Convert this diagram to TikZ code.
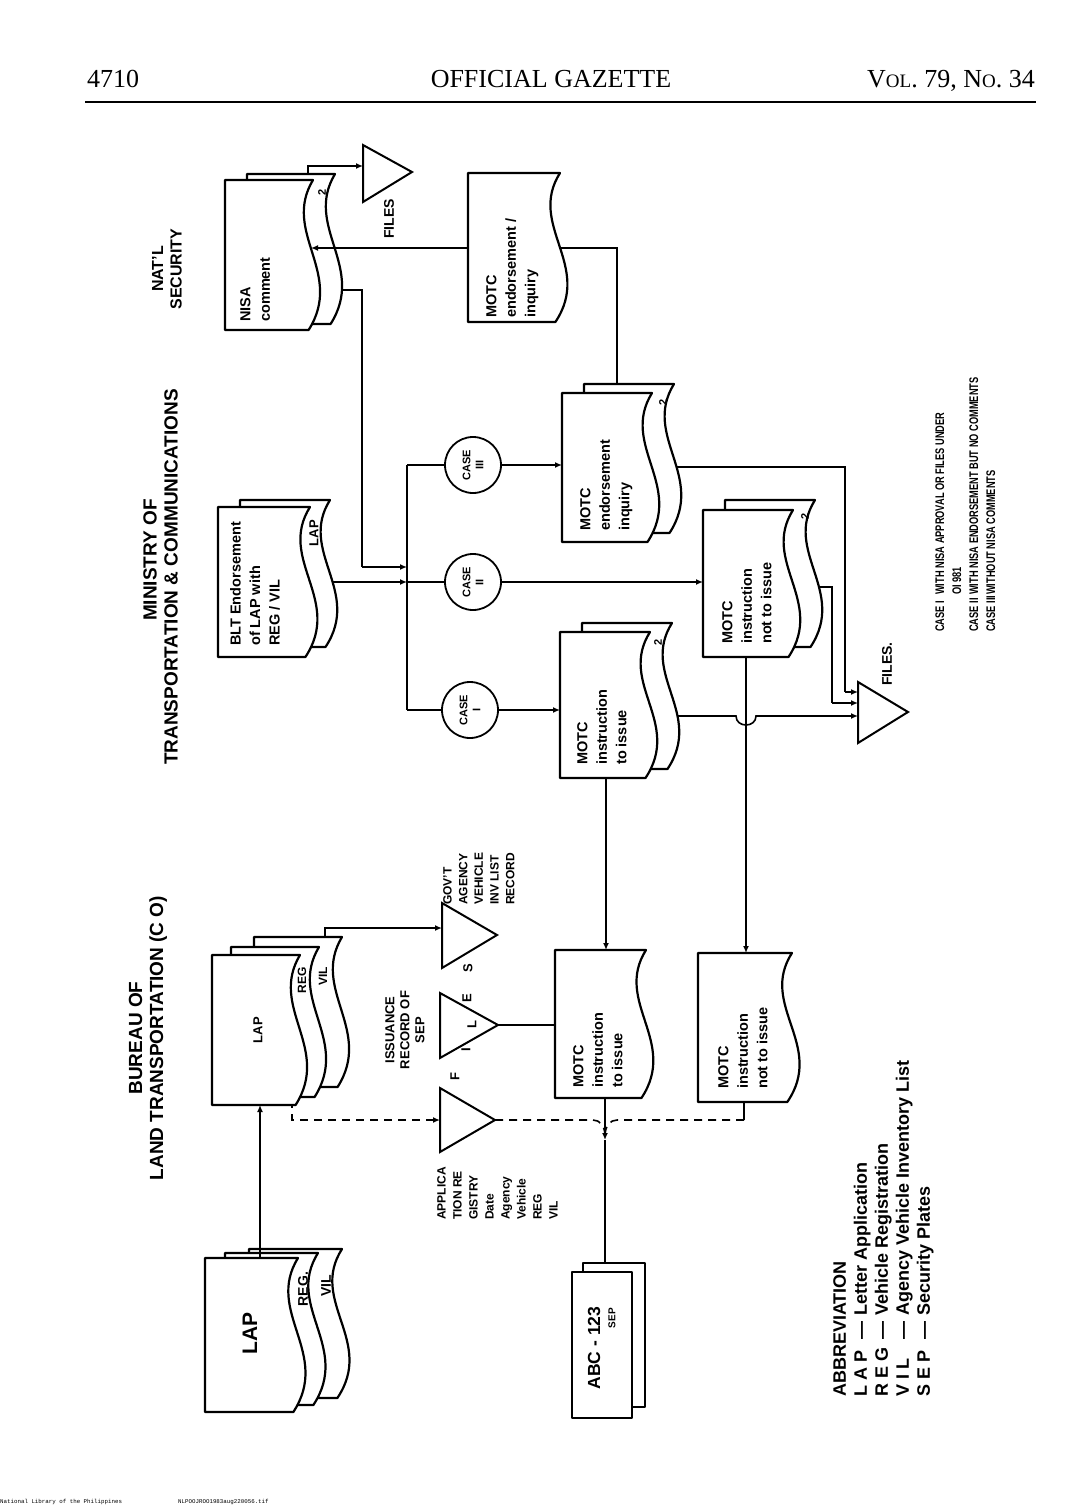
\documentclass[tikz,border=0pt]{standalone}
\usepackage{fontspec}
\usepackage{graphicx}
\setmainfont{Liberation Sans}
\newfontfamily\serfont{Liberation Serif}
\newfontfamily\monofont{Liberation Mono}
\usetikzlibrary{arrows.meta}
\newcommand{\mydoc}[4]{%
  \draw[docline] (#1,#2) -- ({#1+#3},#2)
    .. controls ({#1+0.64*#3},{#2+0.35*#4}) and ({#1+1.36*#3},{#2+0.62*#4})
    .. ({#1+0.95*#3},{#2+#4}) -- (#1,{#2+#4}) -- cycle;}
\begin{document}
\begin{tikzpicture}[x=1pt,y=-1pt,
  docline/.style={line width=2.2pt,fill=white,line join=round},
  conn/.style={line width=1.6pt},
  arr/.style={line width=1.6pt,-{Latex[length=7pt,width=6pt]}},
  dsh/.style={line width=1.6pt,dash pattern=on 8pt off 6pt},
  tri/.style={line width=2pt,line join=miter,fill=white},
  dtext/.style={rotate=90,inner sep=0pt,anchor=north west,align=left,font=\bfseries\fontsize{14.5}{19.5}\selectfont},
  ttext/.style={rotate=90,inner sep=0pt,align=center,font=\bfseries\fontsize{19}{21}\selectfont},
  lbl/.style={rotate=90,inner sep=0pt,font=\bfseries\fontsize{13}{15}\selectfont},
  casec/.style={circle,draw,line width=1.8pt,minimum size=56pt,inner sep=0pt,rotate=90,align=center,font=\bfseries\fontsize{11}{13}\selectfont,fill=white},
  hdr/.style={inner sep=0pt,font=\serfont\fontsize{26}{26}\selectfont}]
\useasboundingbox (0,0) rectangle (1080,1508);
\fill[white] (0,0) rectangle (1080,1508);

% ---------- header and footer ----------
\node[hdr,anchor=base west] (pgno) at (87,87) {4710};
\node[hdr,anchor=base] (gaz) at (551,87) {OFFICIAL GAZETTE};
\node[hdr,anchor=base east] (vol) at (1035,87) {V{\fontsize{19}{19}\selectfont OL}. 79, N{\fontsize{19}{19}\selectfont O}. 34};
\coordinate (ruleA) at (85,102);
\coordinate (ruleB) at (1036,102);
\draw[line width=1.3pt] (ruleA) -- (ruleB);
\node[anchor=base west,inner sep=0pt,font=\monofont\fontsize{5.8}{6}\selectfont] (foot1) at (0,1503) {National Library of the Philippines};
\node[anchor=base west,inner sep=0pt,font=\monofont\fontsize{5.8}{6}\selectfont] (foot2) at (178,1503) {NLPOOJROO1983aug220056.tif};

% ---------- titles ----------
\node[ttext,font=\bfseries\fontsize{16}{18.5}\selectfont] (tnat) at (167,269) {NAT'L\\SECURITY};
\node[ttext] (tmin1) at (150,560) {MINISTRY OF};
\node[ttext] (tmin2) at (171,577) {TRANSPORTATION \& COMMUNICATIONS};
\node[ttext] (tbur) at (148,1038) {BUREAU OF\\LAND TRANSPORTATION (C O)};

% ---------- coordinates ----------
\coordinate (n2top) at (308,185);
\coordinate (f1in) at (363,166);
\coordinate (nisaOut) at (320,290);
\coordinate (nisaTurn) at (362,567);
\coordinate (busn) at (407,567);
\coordinate (mtOut) at (550,248);
\coordinate (meiTop) at (617,392);
\coordinate (bltOut) at (320,582);
\coordinate (bus3) at (407,465);
\coordinate (bus2) at (407,582);
\coordinate (bus1) at (407,710);
\coordinate (meiOut) at (670,467);
\coordinate (f2t1) at (845,692);
\coordinate (f2a) at (858,692);
\coordinate (mniOut) at (810,587);
\coordinate (f2t2) at (832,703);
\coordinate (f2b) at (858,703);
\coordinate (mitOut) at (670,716);
\coordinate (hopA) at (736,716);
\coordinate (hopB) at (756,716);
\coordinate (f2c) at (858,716);
\coordinate (mitDown) at (606,770);
\coordinate (mit2Top) at (606,950);
\coordinate (mniDown) at (746,650);
\coordinate (mni2Top) at (746,953);
\coordinate (burTop) at (325,945);
\coordinate (govIn) at (442,928);
\coordinate (burBot) at (292,1100);
\coordinate (appIn) at (440,1120);

% ---------- connectors starting under documents ----------
\draw[arr] (n2top) |- (f1in);
\draw[conn] (nisaOut) -| (nisaTurn);
\draw[arr] (nisaTurn) -- (busn);
\draw[conn] (mtOut) -| (meiTop);
\draw[arr] (bltOut) -- (bus2);
\draw[conn] (meiOut) -| (f2t1);
\draw[arr] (f2t1) -- (f2a);
\draw[conn] (mniOut) -| (f2t2);
\draw[arr] (f2t2) -- (f2b);
\draw[arr] (mitOut) -- (hopA) .. controls (736,728) and (756,728) .. (hopB) -- (f2c);
\draw[arr] (mitDown) -- (mit2Top);
\draw[arr] (mniDown) -- (mni2Top);
\draw[arr] (burTop) |- (govIn);
\draw[dsh,-{Latex[length=7pt,width=6pt]}] (burBot) |- (appIn);

% ---------- documents ----------
% NISA comment
\mydoc{247}{174}{88}{150}
\mydoc{225}{180}{88}{150}
% MOTC endorsement / inquiry (top)
\mydoc{468}{173}{92}{149}
% BLT endorsement
\mydoc{240}{500}{90}{147}
\mydoc{218}{507}{92}{150}
% MOTC endorsement inquiry
\mydoc{584}{384}{90}{149}
\mydoc{562}{393}{90}{149}
% MOTC instruction not to issue (upper)
\mydoc{725}{500}{90}{147}
\mydoc{703}{510}{90}{147}
% MOTC instruction to issue (upper)
\mydoc{582}{623}{90}{146}
\mydoc{560}{632}{90}{146}
% lower MOTC docs
\mydoc{555}{950}{91}{148}
\mydoc{698}{953}{94}{149}
% Bureau LAP stack
\mydoc{254}{937}{88}{150}
\mydoc{231}{947}{88}{150}
\mydoc{212}{955}{88}{150}
% applicant LAP stack
\mydoc{249}{1249}{93}{149}
\mydoc{225}{1253}{93}{152}
\mydoc{205}{1258}{93}{154}
% SEP plates
\draw[docline] (583,1263) rectangle (645,1407);
\draw[docline] (572,1272) rectangle (632,1418);

% ---------- document texts ----------
\node[dtext] (tNisa) at (240,322) {NISA\\comment};
\node[dtext] (tMt) at (486,318) {MOTC\\endorsement /\\inquiry};
\node[dtext] (tBlt) at (230,646) {BLT Endorsement\\of LAP with\\REG / VIL};
\node[dtext] (tMei) at (580,531) {MOTC\\endorsement\\inquiry};
\node[dtext] (tMni) at (722,644) {MOTC\\instruction\\not to issue};
\node[dtext] (tMit) at (577,765) {MOTC\\instruction\\to issue};
\node[dtext] (tMit2) at (573,1088) {MOTC\\instruction\\to issue};
\node[dtext] (tMni2) at (718,1089) {MOTC\\instruction\\not to issue};
\node[lbl,font=\bfseries\fontsize{11}{11}\selectfont] (two1) at (322,192) {2};
\node[lbl,font=\bfseries\fontsize{11}{11}\selectfont] (two2) at (663,402) {2};
\node[lbl,font=\bfseries\fontsize{11}{11}\selectfont] (two3) at (805,516) {2};
\node[lbl,font=\bfseries\fontsize{11}{11}\selectfont] (two4) at (658,642) {2};
\node[lbl] (bltLap) at (314,533) {LAP};
\node[lbl,font=\bfseries\fontsize{13}{13}\selectfont] (burLap) at (258,1030) {LAP};
\node[lbl,font=\bfseries\fontsize{12}{12}\selectfont] (burReg) at (302,980) {REG};
\node[lbl,font=\bfseries\fontsize{12}{12}\selectfont] (burVil) at (323,976) {VIL};
\node[lbl,font=\bfseries\fontsize{21}{21}\selectfont] (appLap) at (250,1333) {LAP};
\node[lbl,font=\bfseries\fontsize{14}{14}\selectfont] (appReg) at (303,1289) {REG.};
\node[lbl,font=\bfseries\fontsize{14}{14}\selectfont] (appVil) at (326,1286) {VIL};
\node[lbl,font=\bfseries\fontsize{17.5}{17.5}\selectfont] (abc) at (594,1348) {ABC - 123};
\node[lbl,font=\bfseries\fontsize{10}{10}\selectfont] (sepTxt) at (612,1318) {SEP};

% ---------- triangles (files) ----------
\draw[tri] (363,145) -- (363,202) -- (412,172) -- cycle;
\node[lbl,font=\bfseries\fontsize{14}{14}\selectfont] (f1lbl) at (389,219) {FILES};
\draw[tri] (858,682) -- (858,743) -- (908,712) -- cycle;
\node[lbl,font=\bfseries\fontsize{14}{14}\selectfont] (f2lbl) at (887,664) {FILES.};
\draw[tri] (442,903) -- (442,968) -- (497,935) coordinate (govApex) -- cycle;
\draw[tri] (440,993) -- (440,1058) -- (498,1025) coordinate (issApex) -- cycle;
\draw[tri] (440,1088) -- (440,1152) -- (495,1120) coordinate (appApex) -- cycle;
\node[lbl] (fF) at (455,1077) {F};
\node[lbl] (fI) at (466,1050) {I};
\node[lbl] (fL) at (472,1025) {L};
\node[lbl] (fE) at (467,998) {E};
\node[lbl] (fS) at (468,968) {S};
\node[rotate=90,anchor=north west,inner sep=0pt,align=left,font=\bfseries\fontsize{12}{15.7}\selectfont] (govLbl) at (443,905) {GOV'T\\AGENCY\\VEHICLE\\INV LIST\\RECORD};
\node[rotate=90,inner sep=0pt,align=center,font=\bfseries\fontsize{13}{15}\selectfont] (issLbl) at (405,1030) {ISSUANCE\\RECORD OF\\SEP};
\node[rotate=90,anchor=north west,inner sep=0pt,align=left,font=\bfseries\fontsize{12}{16}\selectfont] (appLbl) at (437,1220) {APPLICA\\TION RE\\GISTRY\\Date\\Agency\\Vehicle\\REG\\VIL};

% ---------- case circles ----------
\node[casec] (c3) at (473,465) {CASE\\III};
\node[casec] (c2) at (473,582) {CASE\\II};
\node[casec] (c1) at (470,710) {CASE\\I};
\coordinate (meiL) at (562,465);
\coordinate (mniL) at (703,582);
\coordinate (mitL) at (560,710);
\draw[conn] (bus3) -- (bus1);
\draw[conn] (bus3) -- (c3);
\draw[conn] (bus2) -- (c2);
\draw[conn] (bus1) -- (c1);
\draw[arr] (c3) -- (meiL);
\draw[arr] (c2) -- (mniL);
\draw[arr] (c1) -- (mitL);

% ---------- connectors after documents ----------
\coordinate (mtL) at (468,248);
\coordinate (nisaW) at (311,248);
\draw[arr] (mtL) -- (nisaW);
\coordinate (appFrontTop) at (260,1258);
\coordinate (burBottom) at (260,1105);
\draw[arr] (appFrontTop) -- (burBottom);
\coordinate (mit2L) at (555,1025);
\draw[conn] (issApex) -- (mit2L);
\coordinate (mit2Bot) at (605,1098);
\coordinate (junc) at (605,1140);
\coordinate (sepTop) at (605,1263);
\draw[arr] (mit2Bot) -- (junc);
\draw[conn] (junc) -- (sepTop);
\coordinate (dashL) at (593,1120);
\draw[dsh] (appApex) -- (dashL) .. controls (600,1120) and (605,1126) .. (605,1136);
\coordinate (mni2Bot) at (744,1102);
\coordinate (mni2Turn) at (744,1120);
\coordinate (dashR) at (617,1120);
\draw[conn] (mni2Bot) -- (mni2Turn);
\draw[dsh] (mni2Turn) -- (dashR) .. controls (610,1120) and (605,1126) .. (605,1136);

% ---------- legends ----------
\node[rotate=90,anchor=north west,inner sep=0pt] (legCase) at (932,632)
  {\fontsize{12.5}{17}\selectfont\bfseries\scalebox{0.74}[1]{\begin{tabular}{@{}l@{}}
  \makebox[50pt][l]{CASE I}WITH NISA APPROVAL OR FILES UNDER\\
  \makebox[50pt][l]{}OI 981\\
  \makebox[50pt][l]{CASE II}WITH NISA ENDORSEMENT BUT NO COMMENTS\\
  \makebox[50pt][l]{CASE III}WITHOUT NISA COMMENTS\end{tabular}}};
\node[rotate=90,anchor=north west,inner sep=0pt,align=left,font=\bfseries\fontsize{18}{21}\selectfont] (legAbbr) at (833,1397)
  {ABBREVIATION\\
  \makebox[57pt][l]{L A P}\makebox[24pt][l]{---}Letter Application\\
  \makebox[57pt][l]{R E G}\makebox[24pt][l]{---}Vehicle Registration\\
  \makebox[57pt][l]{V I L}\makebox[24pt][l]{---}Agency Vehicle Inventory List\\
  \makebox[57pt][l]{S E P}\makebox[24pt][l]{---}Security Plates};
\end{tikzpicture}
\end{document}
